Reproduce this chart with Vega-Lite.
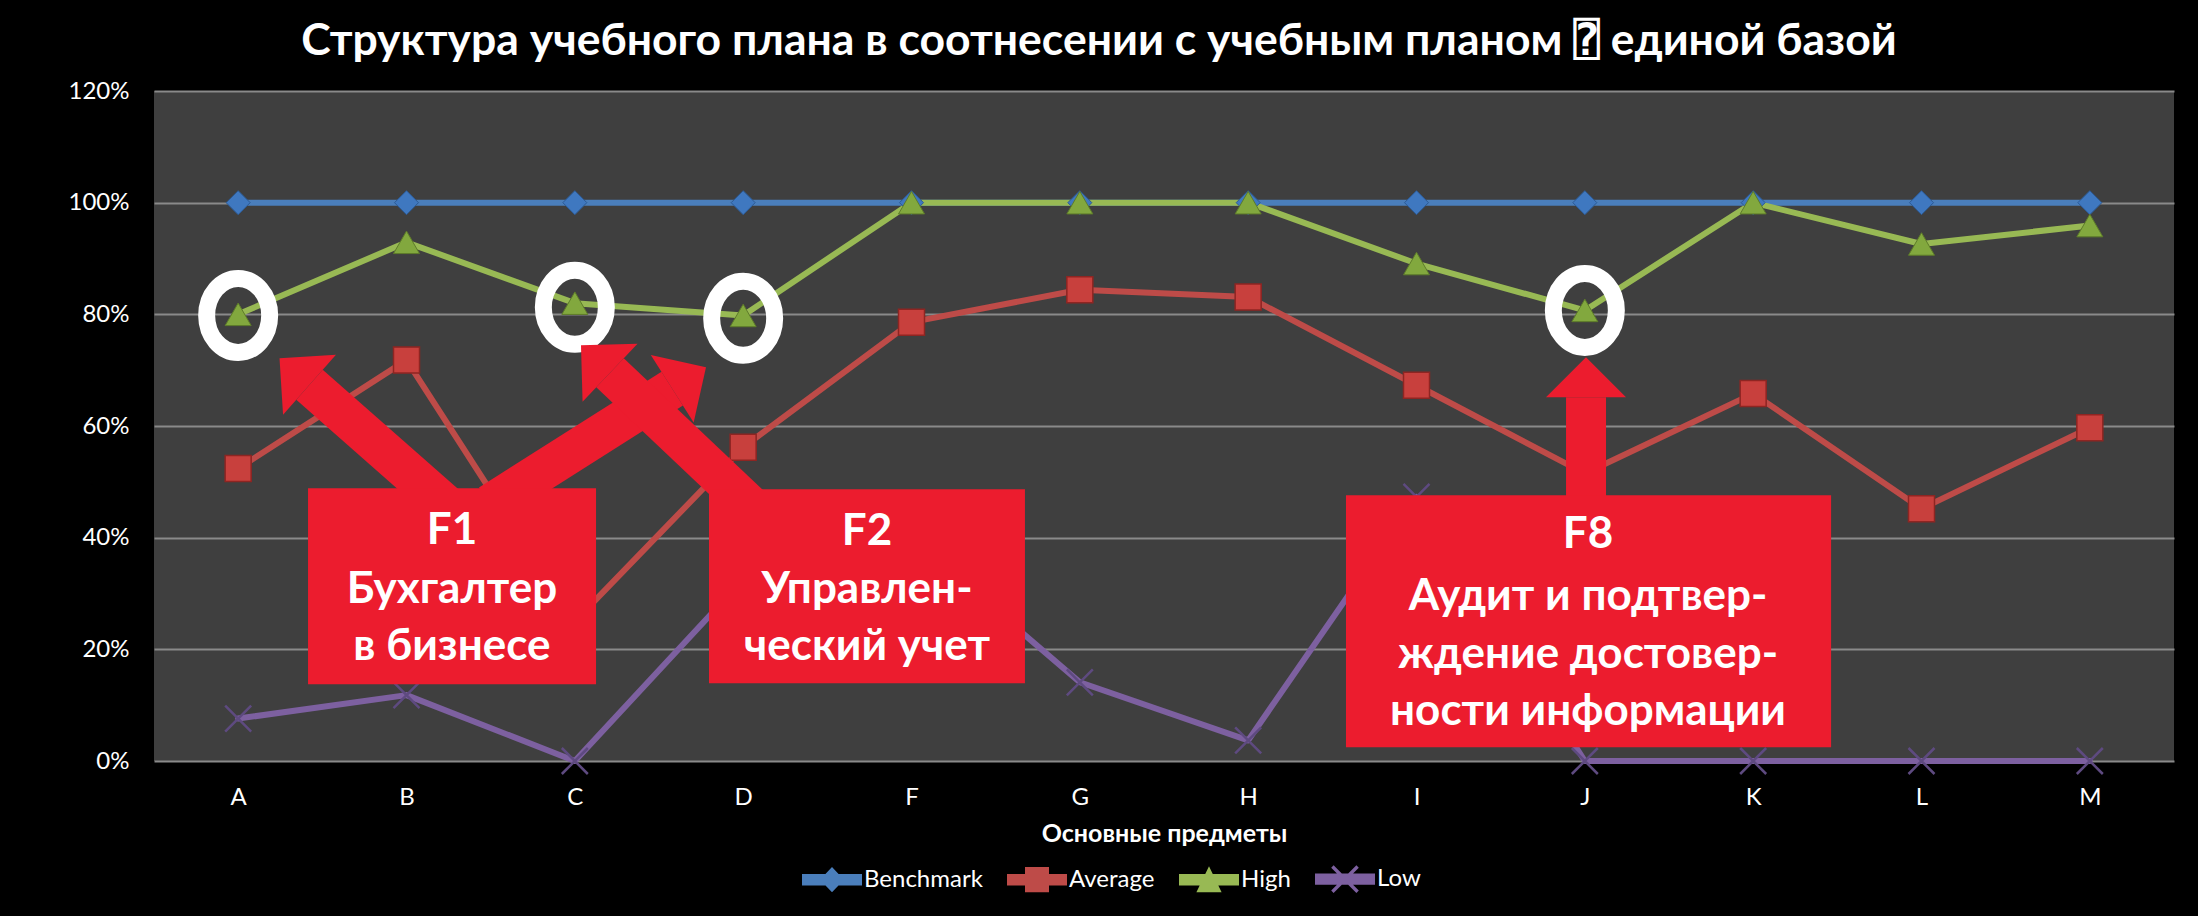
{
  "$schema": "https://vega.github.io/schema/vega-lite/v6.json",
  "width": 2020,
  "height": 670,
  "autosize": {"type": "none"},
  "padding": {"left": 154, "top": 91, "right": 24, "bottom": 155},
  "background": "#000000",
  "title": {
    "text": "Структура учебного плана в соотнесении с учебным планом ⍰ единой базой",
    "font": "Lato, Roboto, DejaVu Sans, DejaVu Sans Mono",
    "fontSize": 44.5,
    "fontWeight": "bold",
    "color": "#ffffff",
    "anchor": "middle",
    "frame": "group",
    "dx": -65,
    "offset": 15
  },
  "config": {"view": {"fill": "#3F3F3F", "stroke": null}, "font": "Lato"},
  "datasets": {
    "scores": [
      {"cat": "A", "series": "Benchmark", "value": 1}, {"cat": "B", "series": "Benchmark", "value": 1},
      {"cat": "C", "series": "Benchmark", "value": 1}, {"cat": "D", "series": "Benchmark", "value": 1},
      {"cat": "F", "series": "Benchmark", "value": 1}, {"cat": "G", "series": "Benchmark", "value": 1},
      {"cat": "H", "series": "Benchmark", "value": 1}, {"cat": "I", "series": "Benchmark", "value": 1},
      {"cat": "J", "series": "Benchmark", "value": 1}, {"cat": "K", "series": "Benchmark", "value": 1},
      {"cat": "L", "series": "Benchmark", "value": 1}, {"cat": "M", "series": "Benchmark", "value": 1},
      {"cat": "A", "series": "Average", "value": 0.524}, {"cat": "B", "series": "Average", "value": 0.718},
      {"cat": "C", "series": "Average", "value": 0.25}, {"cat": "D", "series": "Average", "value": 0.562},
      {"cat": "F", "series": "Average", "value": 0.786}, {"cat": "G", "series": "Average", "value": 0.844},
      {"cat": "H", "series": "Average", "value": 0.831}, {"cat": "I", "series": "Average", "value": 0.673},
      {"cat": "J", "series": "Average", "value": 0.515}, {"cat": "K", "series": "Average", "value": 0.658},
      {"cat": "L", "series": "Average", "value": 0.452}, {"cat": "M", "series": "Average", "value": 0.597},
      {"cat": "A", "series": "High", "value": 0.8}, {"cat": "B", "series": "High", "value": 0.929},
      {"cat": "C", "series": "High", "value": 0.82}, {"cat": "D", "series": "High", "value": 0.798},
      {"cat": "F", "series": "High", "value": 1}, {"cat": "G", "series": "High", "value": 1},
      {"cat": "H", "series": "High", "value": 1}, {"cat": "I", "series": "High", "value": 0.891},
      {"cat": "J", "series": "High", "value": 0.807}, {"cat": "K", "series": "High", "value": 1},
      {"cat": "L", "series": "High", "value": 0.926}, {"cat": "M", "series": "High", "value": 0.959},
      {"cat": "A", "series": "Low", "value": 0.076}, {"cat": "B", "series": "Low", "value": 0.118},
      {"cat": "C", "series": "Low", "value": 0}, {"cat": "D", "series": "Low", "value": 0.325},
      {"cat": "F", "series": "Low", "value": 0.4}, {"cat": "G", "series": "Low", "value": 0.141},
      {"cat": "H", "series": "Low", "value": 0.037}, {"cat": "I", "series": "Low", "value": 0.473},
      {"cat": "J", "series": "Low", "value": 0}, {"cat": "K", "series": "Low", "value": 0},
      {"cat": "L", "series": "Low", "value": 0}, {"cat": "M", "series": "Low", "value": 0}
    ],
    "boxes": [
      {"box": "F1", "x1": 0.415, "x2": 2.126, "y1": 0.4884, "y2": 0.1374},
      {"box": "F2", "x1": 2.797, "x2": 4.674, "y1": 0.4866, "y2": 0.1392},
      {"box": "F8", "x1": 6.581, "x2": 9.463, "y1": 0.4759, "y2": 0.0245}
    ],
    "boxText": [
      {"line": "F1", "x": 1.27, "y": 0.4128},
      {"line": "Бухгалтер", "x": 1.27, "y": 0.3057},
      {"line": "в бизнесе", "x": 1.27, "y": 0.2036},
      {"line": "F2", "x": 3.736, "y": 0.4097},
      {"line": "Управлен-", "x": 3.736, "y": 0.3057},
      {"line": "ческий учет", "x": 3.736, "y": 0.2036},
      {"line": "F8", "x": 8.019, "y": 0.4043},
      {"line": "Аудит и подтвер-", "x": 8.019, "y": 0.2932},
      {"line": "ждение достовер-", "x": 8.019, "y": 0.1893},
      {"line": "ности информации", "x": 8.019, "y": 0.0872}
    ],
    "rings": [
      {"x": 0, "y": 0.798}, {"x": 2, "y": 0.8126}, {"x": 3, "y": 0.793}, {"x": 8, "y": 0.807}
    ],
    "shafts": [
      {"x1": 1.2555, "y1": 0.453, "x2": 0.4238, "y2": 0.674},
      {"x1": 1.4943, "y1": 0.4596, "x2": 2.5785, "y2": 0.6668},
      {"x1": 3.0633, "y1": 0.4515, "x2": 2.209, "y2": 0.6953},
      {"x1": 8.0071, "y1": 0.449, "x2": 8.0071, "y2": 0.6514}
    ],
    "heads": [
      {"x": 0.3347, "y": 0.6977, "angle": 311.4},
      {"x": 2.6789, "y": 0.686, "angle": 57.6},
      {"x": 2.1229, "y": 0.72, "angle": 313.4},
      {"x": 8.0071, "y": 0.6873, "angle": 0}
    ]
  },
  "layer": [
    {
      "layer": [
        {
          "data": {"name": "scores"},
          "mark": {"type": "line", "strokeWidth": 6, "strokeJoin": "round", "strokeCap": "round"},
          "encoding": {
            "x": {
              "field": "cat", "type": "nominal",
              "axis": {
                "title": "Основные предметы", "labelAngle": 0, "ticks": false, "domain": false, "grid": false,
                "labelFont": "Lato", "labelFontSize": 24, "labelColor": "#ffffff", "labelPadding": 24,
                "titleFont": "Lato, Roboto", "titleFontSize": 25, "titleFontWeight": "bold", "titleColor": "#ffffff", "titlePadding": 12
              }
            },
            "y": {
              "field": "value", "type": "quantitative",
              "scale": {"domain": [0, 1.2], "nice": false},
              "axis": {
                "title": null, "values": [0, 0.2, 0.4, 0.6, 0.8, 1, 1.2], "format": ".0%",
                "grid": true, "gridColor": "#8A8A8A", "gridWidth": 2, "domain": false, "ticks": false,
                "labelPadding": 25, "labelFont": "Lato", "labelFontSize": 24, "labelColor": "#ffffff", "labelFlush": false
              }
            },
            "color": {
              "field": "series", "type": "nominal",
              "scale": {"domain": ["Benchmark", "Average", "High", "Low"], "range": ["#4A7EBB", "#BE4B48", "#98B954", "#7D60A0"]},
              "legend": {
                "orient": "none", "legendX": 648, "legendY": 758, "direction": "horizontal", "columns": 4,
                "title": null, "symbolSize": 3600, "labelFont": "Lato", "labelFontSize": 24, "labelColor": "#ffffff",
                "labelOffset": 2, "columnPadding": 24, "padding": 0,
                "encode": {
                  "symbols": {
                    "update": {
                      "shape": {"signal": "datum.value === 'Benchmark' ? 'M-1,-0.19L1,-0.19L1,0.19L-1,0.19Z M0,-0.42L0.4,0L0,0.42L-0.4,0Z' : datum.value === 'Average' ? 'M-1,-0.19L1,-0.19L1,0.19L-1,0.19Z M-0.4,-0.42L0.4,-0.42L0.4,0.42L-0.4,0.42Z' : datum.value === 'High' ? 'M-1,-0.19L1,-0.19L1,0.19L-1,0.19Z M0,-0.45L0.42,0.42L-0.42,0.42Z' : 'M-1,-0.19L1,-0.19L1,0.19L-1,0.19Z M-0.46,-0.38L-0.38,-0.46L0.46,0.38L0.38,0.46Z M0.38,-0.46L0.46,-0.38L-0.38,0.46L-0.46,0.38Z'"},
                      "fill": {"scale": "color", "field": "value"},
                      "stroke": {"value": "transparent"},
                      "strokeWidth": {"value": 0},
                      "opacity": {"value": 1}
                    }
                  }
                }
              }
            }
          }
        },
        {
          "data": {"name": "scores"},
          "transform": [{"filter": "datum.series === 'Benchmark'"}],
          "mark": {"type": "point", "shape": "diamond", "filled": true, "fill": "#3F78C0", "stroke": "#2C5A94", "strokeWidth": 1, "size": 576, "opacity": 1},
          "encoding": {
            "x": {"field": "cat", "type": "nominal"},
            "y": {"field": "value", "type": "quantitative", "scale": {"domain": [0, 1.2], "nice": false}}
          }
        },
        {
          "data": {"name": "scores"},
          "transform": [{"filter": "datum.series === 'Average'"}],
          "mark": {"type": "point", "shape": "square", "filled": true, "fill": "#C8403D", "stroke": "#8E2522", "strokeWidth": 1.5, "size": 676, "opacity": 1},
          "encoding": {
            "x": {"field": "cat", "type": "nominal"},
            "y": {"field": "value", "type": "quantitative", "scale": {"domain": [0, 1.2], "nice": false}}
          }
        },
        {
          "data": {"name": "scores"},
          "transform": [{"filter": "datum.series === 'High'"}],
          "mark": {"type": "point", "shape": "triangle-up", "filled": true, "fill": "#82A83E", "stroke": "#5E7C2A", "strokeWidth": 1, "size": 676, "opacity": 1},
          "encoding": {
            "x": {"field": "cat", "type": "nominal"},
            "y": {"field": "value", "type": "quantitative", "scale": {"domain": [0, 1.2], "nice": false}}
          }
        },
        {
          "data": {"name": "scores"},
          "transform": [{"filter": "datum.series === 'Low'"}],
          "mark": {"type": "point", "shape": "M-1,-1L1,1M-1,1L1,-1", "filled": false, "stroke": "#5E4A80", "strokeWidth": 2.5, "size": 676, "opacity": 1},
          "encoding": {
            "x": {"field": "cat", "type": "nominal"},
            "y": {"field": "value", "type": "quantitative", "scale": {"domain": [0, 1.2], "nice": false}}
          }
        }
      ]
    },
    {
      "layer": [
        {
          "data": {"name": "rings"},
          "mark": {"type": "point", "shape": "M-1,0A1,1.175,0,1,1,1,0A1,1.175,0,1,1,-1,0Z", "filled": false, "stroke": "#ffffff", "strokeWidth": 17, "size": 3969, "opacity": 1},
          "encoding": {
            "x": {"field": "x", "type": "quantitative", "scale": {"domain": [-0.5, 11.5], "nice": false, "zero": false}, "axis": null},
            "y": {"field": "y", "type": "quantitative", "scale": {"domain": [0, 1.2], "nice": false}}
          }
        },
        {
          "data": {"name": "shafts"},
          "mark": {"type": "rule", "strokeWidth": 40, "strokeCap": "butt", "color": "#EC1C2E"},
          "encoding": {
            "x": {"field": "x1", "type": "quantitative", "scale": {"domain": [-0.5, 11.5], "nice": false, "zero": false}, "axis": null},
            "x2": {"field": "x2"},
            "y": {"field": "y1", "type": "quantitative", "scale": {"domain": [0, 1.2], "nice": false}},
            "y2": {"field": "y2"}
          }
        },
        {
          "data": {"name": "heads"},
          "mark": {"type": "point", "shape": "M0,-0.5L1,0.5L-1,0.5Z", "filled": true, "fill": "#EC1C2E", "strokeWidth": 0, "size": 6400, "opacity": 1},
          "encoding": {
            "x": {"field": "x", "type": "quantitative", "scale": {"domain": [-0.5, 11.5], "nice": false, "zero": false}, "axis": null},
            "y": {"field": "y", "type": "quantitative", "scale": {"domain": [0, 1.2], "nice": false}},
            "angle": {"field": "angle", "type": "quantitative", "scale": null}
          }
        },
        {
          "data": {"name": "boxes"},
          "mark": {"type": "rect", "color": "#EC1C2E", "opacity": 1},
          "encoding": {
            "x": {"field": "x1", "type": "quantitative", "scale": {"domain": [-0.5, 11.5], "nice": false, "zero": false}, "axis": null},
            "x2": {"field": "x2"},
            "y": {"field": "y1", "type": "quantitative", "scale": {"domain": [0, 1.2], "nice": false}},
            "y2": {"field": "y2"}
          }
        },
        {
          "data": {"name": "boxText"},
          "mark": {"type": "text", "font": "Lato, Roboto", "fontSize": 44, "fontWeight": "bold", "color": "#ffffff", "align": "center", "baseline": "middle"},
          "encoding": {
            "x": {"field": "x", "type": "quantitative", "scale": {"domain": [-0.5, 11.5], "nice": false, "zero": false}, "axis": null},
            "y": {"field": "y", "type": "quantitative", "scale": {"domain": [0, 1.2], "nice": false}},
            "text": {"field": "line", "type": "nominal"}
          }
        }
      ]
    }
  ],
  "resolve": {"scale": {"x": "independent"}}
}
